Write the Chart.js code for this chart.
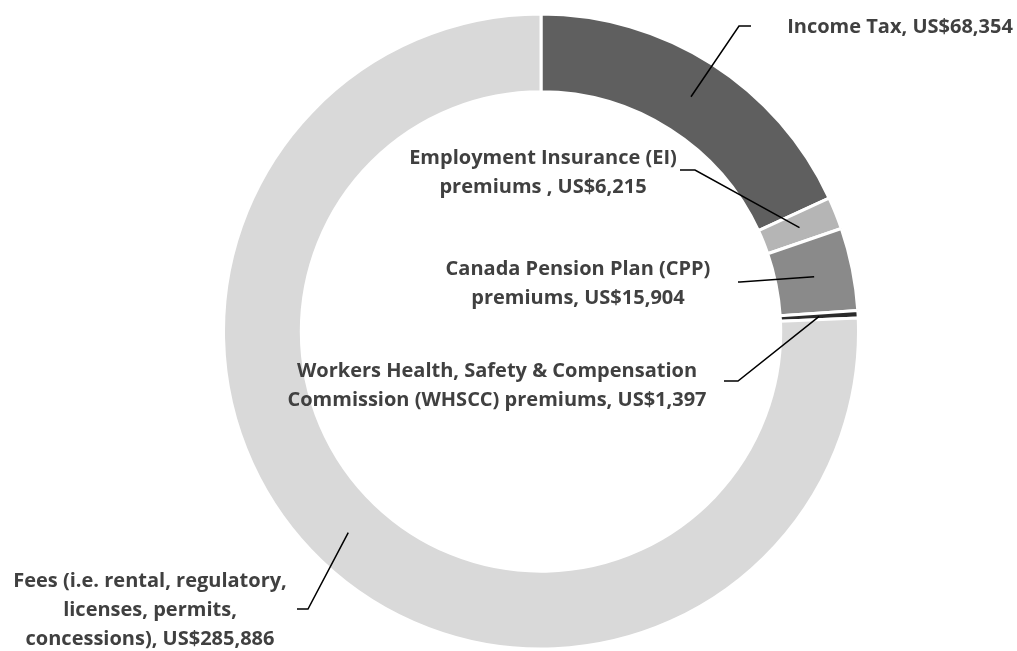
<!DOCTYPE html>
<html>
<head>
<meta charset="UTF-8">
<title>Payments to government</title>
<script src="https://cdn.jsdelivr.net/npm/chart.js@4.4.1/dist/chart.umd.min.js"></script>
<style>
    html, body { margin: 0; padding: 0; background: #ffffff; }
    #wrap { width: 1017px; height: 651px; position: relative; }
</style>
</head>
<body>
<div id="wrap"><canvas id="paymentsChart"></canvas></div>
<script>
// Data (clockwise from 12 o'clock); '\n' marks where the callout text wraps
const categories = [
    'Income Tax',
    'Employment Insurance (EI)\npremiums ',
    'Canada Pension Plan (CPP)\npremiums',
    'Workers Health, Safety & Compensation\nCommission (WHSCC) premiums',
    'Fees (i.e. rental, regulatory,\nlicenses, permits,\nconcessions)'
];
const amounts = [68354, 6215, 15904, 1397, 285886];
const sliceColors = ['#5f5f5f', '#b5b5b5', '#8a8a8a', '#2b2b2b', '#d9d9d9'];

// Callout placement: elbow of leader line, end of horizontal tick, text centre, first line y
const calloutPlaces = [
    { elbow: [739, 26], end: [751, 26], textX: 900, textY: 27 },
    { elbow: [695, 170], end: [680, 170], textX: 543, textY: 158 },
    { elbow: [740, 282], end: [738, 282], textX: 578, textY: 269 },
    { elbow: [738, 381], end: [724, 381], textX: 497, textY: 371 },
    { elbow: [308, 609], end: [297, 609], textX: 150, textY: 581 }
];

function calloutText(i) {
    return (categories[i] + ', US$' + amounts[i].toLocaleString('en-US')).split('\n');
}

const calloutPlugin = {
    id: 'callouts',
    afterDatasetsDraw(chart, args, opts) {
        const ctx = chart.ctx;
        const meta = chart.getDatasetMeta(0);
        ctx.save();
        meta.data.forEach((arc, i) => {
            const p = arc.getCenterPoint();
            const place = opts.places[i];
            ctx.beginPath();
            ctx.moveTo(p.x, p.y);
            ctx.lineTo(place.elbow[0], place.elbow[1]);
            ctx.lineTo(place.end[0], place.end[1]);
            ctx.strokeStyle = '#000000';
            ctx.lineWidth = 1.5;
            ctx.stroke();

            ctx.fillStyle = '#404040';
            ctx.font = 'bold 20px "Open Sans"';
            ctx.textAlign = 'center';
            ctx.textBaseline = 'middle';
            calloutText(i).forEach((line, k) => {
                ctx.fillText(line, place.textX, place.textY + k * 29);
            });
        });
        ctx.restore();
    }
};

const ctx = document.getElementById('paymentsChart').getContext('2d');
new Chart(ctx, {
    type: 'doughnut',
    data: {
        labels: categories.map(c => c.replace(/\n/g, ' ').trim()),
        datasets: [{
            data: amounts,
            backgroundColor: sliceColors,
            borderColor: '#ffffff',
            borderWidth: 3
        }]
    },
    options: {
        responsive: true,
        maintainAspectRatio: false,
        animation: false,
        cutout: '75.5%',
        layout: { padding: { left: 222, right: 157, top: 12, bottom: 0 } },
        plugins: {
            legend: { display: false },
            tooltip: { enabled: false },
            callouts: { places: calloutPlaces }
        }
    },
    plugins: [calloutPlugin]
});
</script>
</body>
</html>
